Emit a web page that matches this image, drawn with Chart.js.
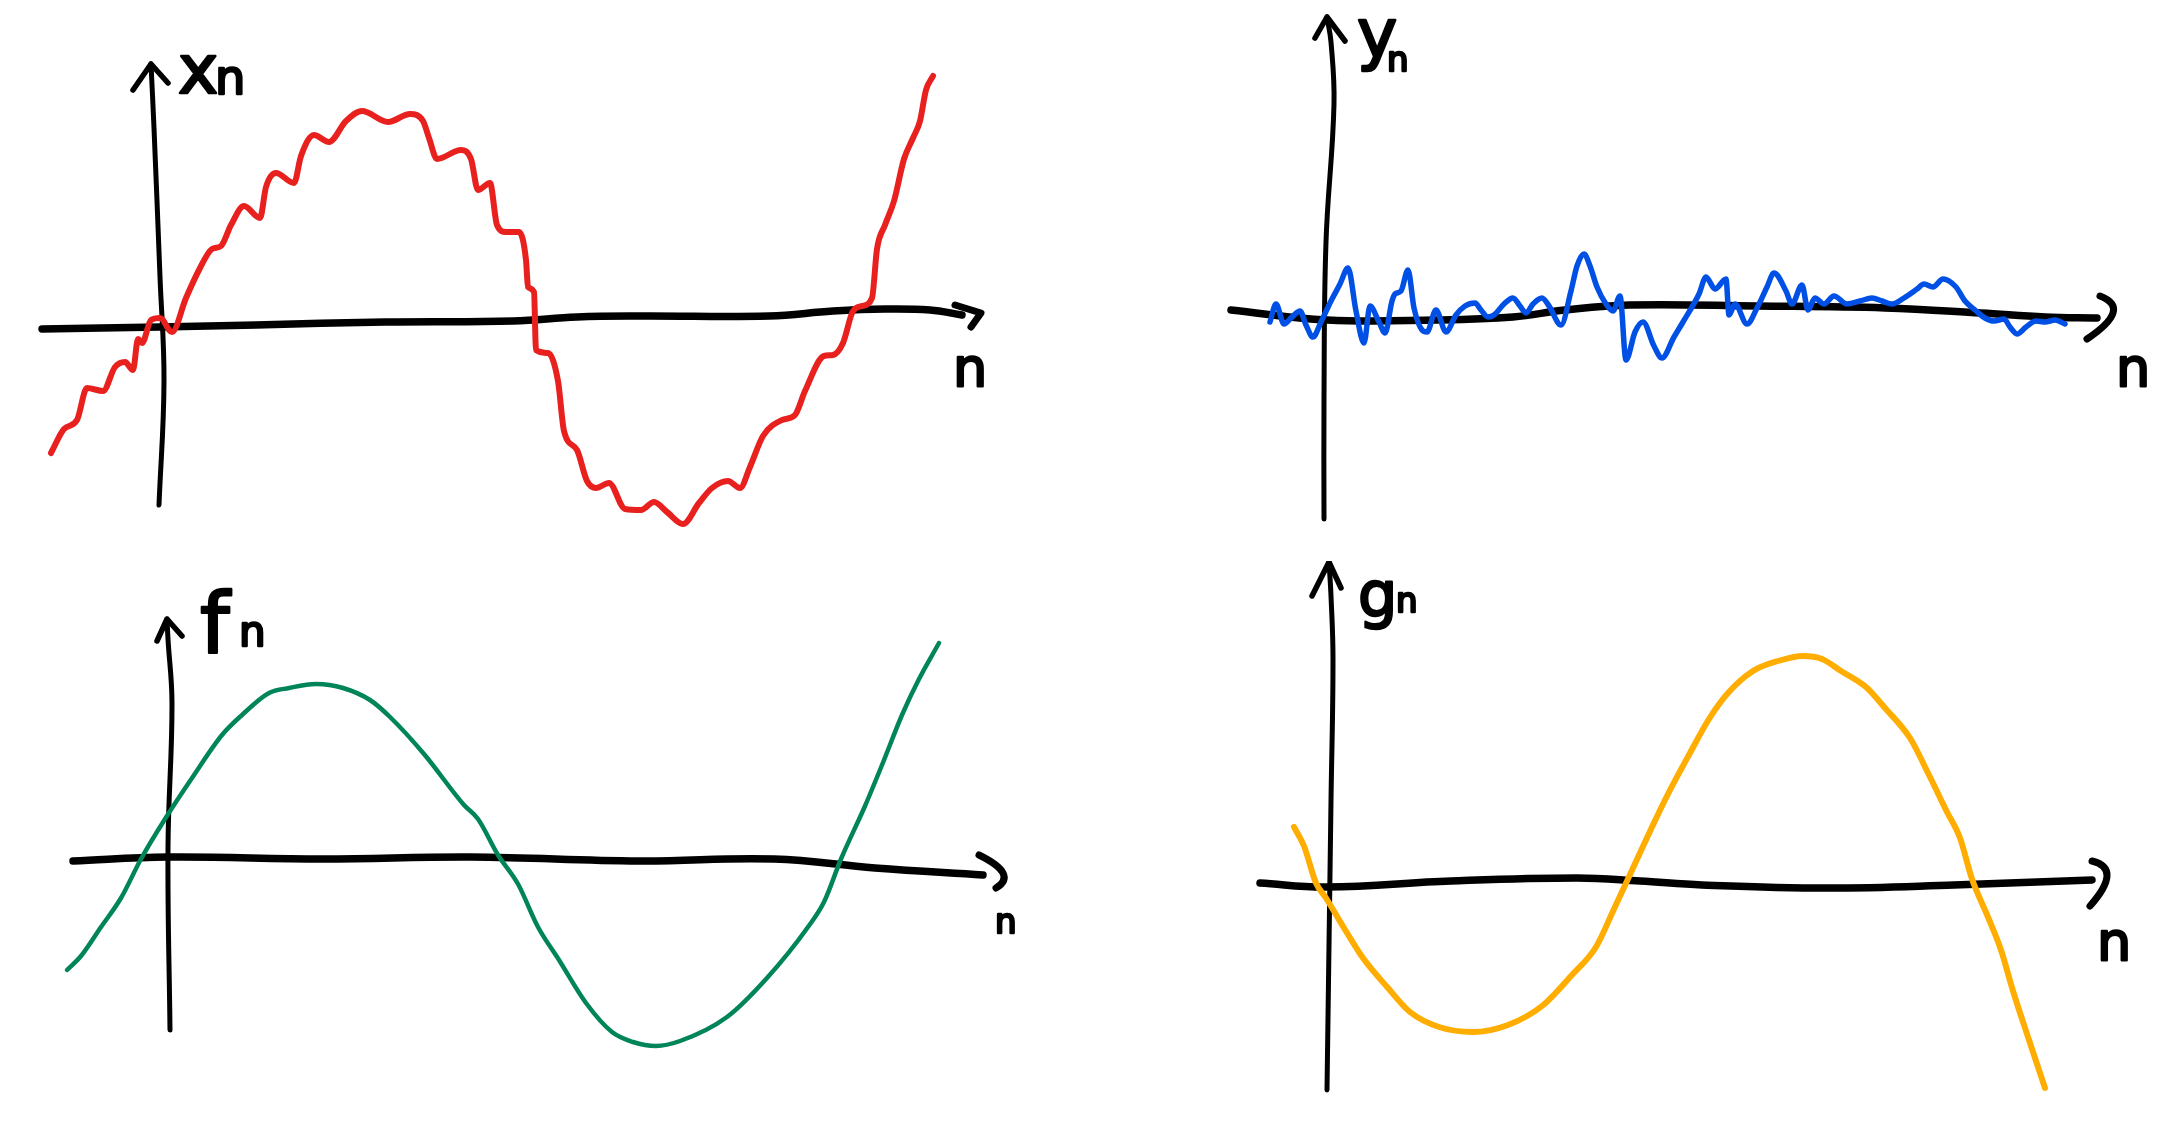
<!DOCTYPE html>
<html lang="en">
  <head>
    <meta charset="utf-8" />
    <title>Sketched sequences</title>
    <style>
      * {
        margin: 0;
        padding: 0;
      }
      body {
        width: 2180px;
        height: 1122px;
        background: white;
        position: relative;
        overflow: hidden;
      }
      canvas {
        position: absolute;
      }
    </style>
  </head>
  <body>
    <canvas id="xnChart" width="1090" height="561" style="left: 0; top: 0"></canvas>
    <canvas id="ynChart" width="1090" height="561" style="left: 1090px; top: 0"></canvas>
    <canvas id="fnChart" width="1090" height="561" style="left: 0; top: 561px"></canvas>
    <canvas id="gnChart" width="1090" height="561" style="left: 1090px; top: 561px"></canvas>

    <script src="https://cdn.jsdelivr.net/npm/chart.js@4.4.0/dist/chart.umd.min.js"></script>

    <script>
      // data block: [n, value] pairs
      const xnPoints = [
        [-1.06, -1.28], [-0.93, -1.04], [-0.8, -0.95], [-0.7, -0.63], [-0.54, -0.66],
        [-0.42, -0.42], [-0.32, -0.37], [-0.24, -0.45], [-0.19, -0.14], [-0.15, -0.18],
        [-0.06, 0.05], [0.03, 0.07], [0.15, -0.07], [0.29, 0.27], [0.42, 0.55],
        [0.55, 0.76], [0.64, 0.79], [0.74, 1.0], [0.87, 1.19], [1.03, 1.07],
        [1.09, 1.38], [1.19, 1.52], [1.37, 1.42], [1.44, 1.69], [1.57, 1.9],
        [1.72, 1.83], [1.89, 2.04], [2.05, 2.14], [2.31, 2.03], [2.53, 2.11],
        [2.66, 2.04], [2.72, 1.87], [2.8, 1.66], [3.04, 1.75], [3.14, 1.66],
        [3.21, 1.35], [3.33, 1.42], [3.4, 1.0], [3.49, 0.93], [3.62, 0.93],
        [3.69, 0.65], [3.71, 0.38], [3.77, 0.33], [3.79, -0.25], [3.91, -0.28],
        [4.01, -0.56], [4.07, -1.06], [4.2, -1.25], [4.3, -1.56], [4.39, -1.63],
        [4.52, -1.58], [4.68, -1.84], [4.84, -1.85], [4.97, -1.77], [5.1, -1.87],
        [5.26, -1.99], [5.42, -1.78], [5.55, -1.63], [5.71, -1.56], [5.83, -1.63],
        [5.93, -1.42], [6.06, -1.11], [6.25, -0.95], [6.38, -0.9], [6.48, -0.66],
        [6.67, -0.31], [6.76, -0.3], [6.86, -0.18], [6.96, 0.14], [7.05, 0.19],
        [7.15, 0.27], [7.2, 0.76], [7.28, 1.0], [7.37, 1.24], [7.47, 1.66],
        [7.56, 1.87], [7.63, 2.04], [7.69, 2.35], [7.76, 2.49],
      ];
      const ynPoints = [
        [-0.56, -0.04], [-0.5, 0.14], [-0.42, -0.06], [-0.34, 0.01], [-0.26, 0.07],
        [-0.2, -0.07], [-0.13, -0.19], [-0.05, -0.04], [0.05, 0.17], [0.14, 0.34],
        [0.22, 0.5], [0.3, 0.07], [0.38, -0.25], [0.44, 0.12], [0.53, -0.04],
        [0.59, -0.15], [0.66, 0.17], [0.69, 0.24], [0.75, 0.27], [0.82, 0.48],
        [0.88, 0.1], [0.96, -0.12], [1.01, -0.14], [1.1, 0.08], [1.2, -0.14],
        [1.3, 0.03], [1.39, 0.12], [1.49, 0.15], [1.55, 0.08], [1.62, 0.01],
        [1.68, 0.03], [1.78, 0.14], [1.87, 0.2], [1.94, 0.12], [2.0, 0.05],
        [2.07, 0.14], [2.16, 0.2], [2.23, 0.12], [2.35, -0.07], [2.45, 0.27],
        [2.51, 0.52], [2.58, 0.64], [2.64, 0.52], [2.71, 0.31], [2.8, 0.14],
        [2.87, 0.07], [2.94, 0.22], [3.0, -0.42], [3.09, -0.14], [3.17, -0.04],
        [3.28, -0.28], [3.36, -0.4], [3.48, -0.19], [3.57, -0.04], [3.73, 0.24],
        [3.8, 0.41], [3.89, 0.29], [4.0, 0.39], [4.03, 0.03], [4.09, 0.14],
        [4.21, -0.06], [4.31, 0.1], [4.41, 0.31], [4.48, 0.45], [4.6, 0.27],
        [4.66, 0.14], [4.76, 0.33], [4.82, 0.08], [4.89, 0.2], [4.98, 0.14],
        [5.08, 0.22], [5.21, 0.14], [5.34, 0.17], [5.46, 0.2], [5.56, 0.17],
        [5.66, 0.14], [5.78, 0.2], [5.91, 0.29], [5.98, 0.34], [6.07, 0.31],
        [6.17, 0.39], [6.3, 0.31], [6.39, 0.17], [6.49, 0.08], [6.59, 0.0],
        [6.68, -0.03], [6.78, -0.01], [6.84, -0.09], [6.91, -0.16], [7.0, -0.09],
        [7.1, -0.03], [7.19, -0.04], [7.29, -0.02], [7.39, -0.06],
      ];
      const fnPoints = [
        [-1.01, -1.12], [-0.87, -0.98], [-0.67, -0.69], [-0.47, -0.4], [-0.27, -0.01],
        [-0.03, 0.39], [0.24, 0.8], [0.54, 1.23], [0.74, 1.43], [1.01, 1.65],
        [1.21, 1.7], [1.48, 1.74], [1.75, 1.7], [2.02, 1.58], [2.22, 1.41],
        [2.56, 1.04], [2.96, 0.53], [3.1, 0.39], [3.3, 0.03], [3.5, -0.26],
        [3.7, -0.69], [3.91, -1.02], [4.18, -1.45], [4.44, -1.74], [4.65, -1.84],
        [4.88, -1.88], [5.12, -1.83], [5.59, -1.59], [5.99, -1.2], [6.4, -0.69],
        [6.56, -0.44], [6.73, -0.01], [6.97, 0.52], [7.14, 0.93], [7.34, 1.43],
        [7.51, 1.79], [7.71, 2.15],
      ];
      const gnPoints = [
        [-0.33, 0.59], [-0.23, 0.4], [-0.11, 0.03], [-0.01, -0.12], [0.17, -0.42],
        [0.36, -0.72], [0.61, -1.02], [0.83, -1.26], [1.12, -1.41], [1.46, -1.46],
        [1.81, -1.39], [2.15, -1.2], [2.44, -0.9], [2.69, -0.61], [2.87, -0.23],
        [3.06, 0.18], [3.25, 0.59], [3.41, 0.92], [3.63, 1.33], [3.82, 1.67],
        [4.01, 1.93], [4.26, 2.15], [4.51, 2.25], [4.76, 2.3], [4.95, 2.27],
        [5.14, 2.15], [5.39, 1.99], [5.58, 1.78], [5.83, 1.48], [6.02, 1.11],
        [6.2, 0.74], [6.33, 0.48], [6.45, 0.07], [6.61, -0.31], [6.74, -0.64],
        [6.86, -1.05], [7.02, -1.54], [7.18, -2.02],
      ];

      // hand-drawn axes (n axis left to right, value axis bottom to top)
      const xnAxisN = [[-1.15, -0.04], [0.03, -0.02], [0.99, 0.0], [2.28, 0.03], [3.56, 0.04], [4.2, 0.08], [4.84, 0.09], [6.12, 0.09], [6.76, 0.14], [7.28, 0.16], [7.73, 0.15], [8.05, 0.1]];
      const xnAxisV = [[0.02, -1.8], [0.07, -0.56], [0.03, 0.48], [-0.03, 1.97], [-0.06, 2.61]];
      const ynAxisN = [[-0.95, 0.08], [0.01, -0.02], [1.1, -0.02], [1.87, 0.01], [2.39, 0.08], [3.03, 0.13], [4.31, 0.12], [5.59, 0.1], [6.55, 0.05], [7.19, 0.01], [7.71, 0.0]];
      const ynAxisV = [[-0.02, -2.01], [-0.02, -0.8], [0.0, 0.76], [0.08, 2.14], [0.05, 2.76], [0.01, 3.01]];
      const fnAxisN = [[-0.95, -0.03], [0.0, 0.01], [1.55, -0.01], [3.03, 0.01], [4.71, -0.03], [6.06, -0.01], [7.07, -0.1], [8.15, -0.17]];
      const fnAxisV = [[0.02, -1.72], [0.0, 0.1], [0.04, 1.54], [0.0, 2.19], [-0.01, 2.39]];
      const gnAxisN = [[-0.67, 0.03], [-0.01, -0.01], [1.24, 0.05], [2.5, 0.08], [3.13, 0.05], [3.75, 0.01], [5.01, -0.02], [6.27, 0.01], [7.65, 0.06]];
      const gnAxisV = [[0.0, -2.04], [0.04, 0.85], [0.06, 2.27], [0.04, 2.9], [0.02, 3.24]];

      const toXY = (pts) => pts.map(([x, y]) => ({ x, y }));

      // arrowheads and handwritten labels
      const sketchDecor = {
        id: "sketchDecor",
        afterDatasetsDraw(chart, args, opts) {
          const {
            ctx,
            scales: { x, y },
          } = chart;
          const nAxis = chart.data.datasets[1].data;
          const vAxis = chart.data.datasets[2].data;

          ctx.save();
          ctx.strokeStyle = "#000";
          ctx.fillStyle = "#000";
          ctx.lineWidth = 5.5;
          ctx.lineCap = "round";
          ctx.lineJoin = "round";

          // arrow on the value axis
          const top = vAxis[vAxis.length - 1];
          const tx = x.getPixelForValue(top.x);
          const ty = y.getPixelForValue(top.y);
          ctx.beginPath();
          ctx.moveTo(tx + opts.up[0][0], ty + opts.up[0][1]);
          ctx.lineTo(tx, ty);
          ctx.lineTo(tx + opts.up[1][0], ty + opts.up[1][1]);
          ctx.stroke();

          // arrow on the n axis
          const end = nAxis[nAxis.length - 1];
          const ex = x.getPixelForValue(end.x);
          const ey = y.getPixelForValue(end.y);
          const [p0, p1, p2] = opts.right;
          ctx.lineWidth = 7;
          ctx.beginPath();
          ctx.moveTo(ex + p0[0], ey + p0[1]);
          if (opts.curved) {
            const cx = 2 * p1[0] - (p0[0] + p2[0]) / 2;
            const cy = 2 * p1[1] - (p0[1] + p2[1]) / 2;
            ctx.quadraticCurveTo(ex + cx, ey + cy, ex + p2[0], ey + p2[1]);
          } else {
            ctx.lineTo(ex + p1[0], ey + p1[1]);
            ctx.lineTo(ex + p2[0], ey + p2[1]);
          }
          ctx.stroke();

          // labels, thickened to look like marker strokes
          ctx.textBaseline = "alphabetic";
          ctx.textAlign = "left";
          ctx.lineWidth = 2.5;
          opts.labels.forEach((l) => {
            ctx.font = `${l.size}px 'DejaVu Sans'`;
            ctx.fillText(l.text, l.x, l.y);
            ctx.strokeText(l.text, l.x, l.y);
          });

          ctx.restore();
        },
      };

      // config block
      function makeChart(id, curve, color, width, nAxis, vAxis, range, decor) {
        return new Chart(document.getElementById(id), {
          type: "scatter",
          data: {
            datasets: [
              {
                label: "curve",
                data: toXY(curve),
                showLine: true,
                borderColor: color,
                borderWidth: width,
                cubicInterpolationMode: "monotone",
                pointRadius: 0,
                borderCapStyle: "round",
                borderJoinStyle: "round",
                order: 0,
              },
              {
                label: "n axis",
                data: toXY(nAxis),
                showLine: true,
                borderColor: "#000",
                borderWidth: 7.5,
                tension: 0.4,
                pointRadius: 0,
                borderCapStyle: "round",
                order: 1,
              },
              {
                label: "value axis",
                data: toXY(vAxis),
                showLine: true,
                borderColor: "#000",
                borderWidth: 5,
                tension: 0.4,
                pointRadius: 0,
                borderCapStyle: "round",
                order: 2,
              },
            ],
          },
          options: {
            responsive: false,
            animation: false,
            layout: { padding: 0 },
            scales: {
              x: { type: "linear", min: range[0], max: range[1], display: false },
              y: { type: "linear", min: range[2], max: range[3], display: false },
            },
            plugins: {
              legend: { display: false },
              tooltip: { enabled: false },
              sketchDecor: decor,
            },
          },
          plugins: [sketchDecor],
        });
      }

      // init render block
      makeChart("xnChart", xnPoints, "#e8211f", 6, xnAxisN, xnAxisV, [-1.57, 9.33, -2.36, 3.25], {
        up: [[-18, 26], [17, 19]],
        right: [[-7, -10], [19, -2], [9, 12]],
        curved: false,
        labels: [
          { text: "x", size: 68, x: 178, y: 93 },
          { text: "n", size: 48, x: 215, y: 94 },
          { text: "n", size: 54, x: 953, y: 386 },
        ],
      });
      makeChart("ynChart", ynPoints, "#0050e6", 5.5, ynAxisN, ynAxisV, [-2.36, 8.54, -2.43, 3.18], {
        up: [[-12, 21], [18, 24]],
        right: [[3, -22], [16, -5], [-10, 21]],
        curved: true,
        labels: [
          { text: "y", size: 68, x: 267, y: 57 },
          { text: "n", size: 34, x: 297, y: 71 },
          { text: "n", size: 54, x: 1026, y: 386 },
        ],
      });
      makeChart("fnChart", fnPoints, "#00855b", 4.5, fnAxisN, fnAxisV, [-1.68, 9.22, -2.64, 2.97], {
        up: [[-10, 22], [15, 17]],
        right: [[-4, -20], [20, -2], [13, 13]],
        curved: true,
        labels: [
          { text: "f", size: 84, x: 200, y: 92 },
          { text: "n", size: 42, x: 239, y: 85 },
          { text: "n", size: 34, x: 995, y: 372 },
        ],
      });
      makeChart("gnChart", gnPoints, "#ffad00", 6, gnAxisN, gnAxisV, [-2.37, 8.53, -2.36, 3.25], {
        up: [[-17, 34], [12, 26]],
        right: [[0, -19], [15, -4], [-2, 26]],
        curved: true,
        labels: [
          { text: "g", size: 62, x: 268, y: 55 },
          { text: "n", size: 34, x: 306, y: 51 },
          { text: "n", size: 54, x: 1007, y: 399 },
        ],
      });
    </script>
  </body>
</html>
